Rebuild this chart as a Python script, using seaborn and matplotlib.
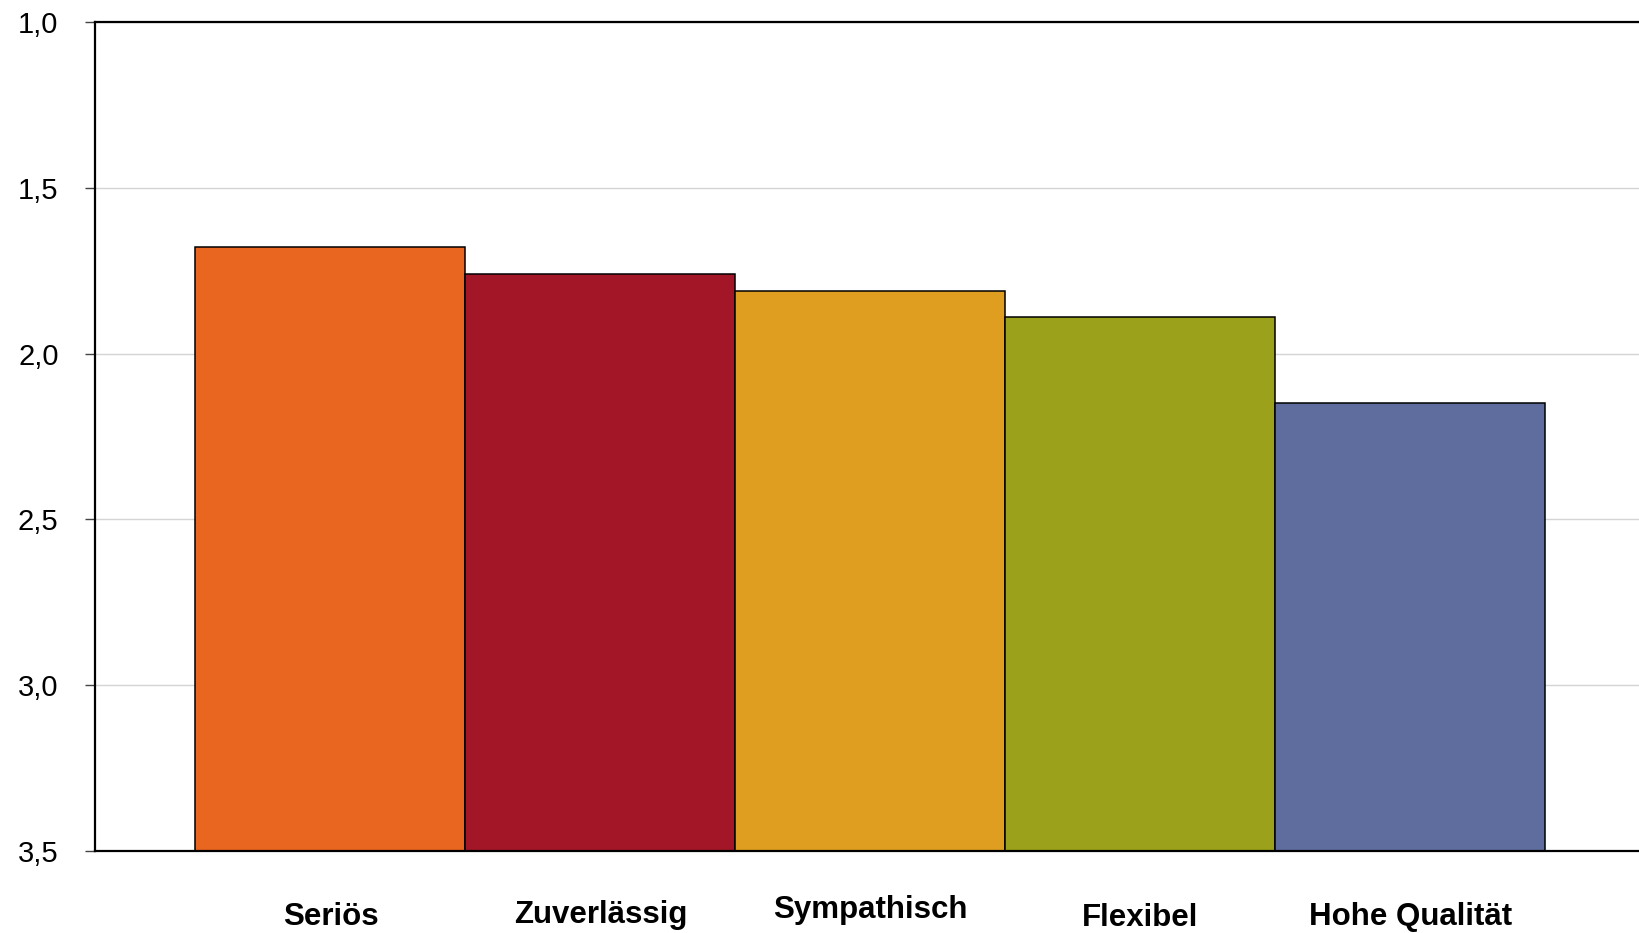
import numpy as np
import pandas as pd
import matplotlib.pyplot as plt
import matplotlib.transforms as mtransforms
from matplotlib import font_manager as fm
from matplotlib.ticker import FuncFormatter
import seaborn as sns

# Daten: Mittelwerte (Schulnoten-Skala, kleiner = besser)
kategorien = ["Seriös", "Zuverlässig", "Sympathisch", "Flexibel", "Hohe Qualität"]
mittelwerte = [1.68, 1.76, 1.81, 1.89, 2.15]
farben = ["#E8661F", "#A21627", "#DF9E20", "#9BA11A", "#5E6D9D"]
y_ticks = [1.0, 1.5, 2.0, 2.5, 3.0, 3.5]
# Versatz der Beschriftungen nach oben (pt), wie im Original leicht versetzt
versatz = [0, 1, 4.5, -1, 0]

basis = 3.5
df = pd.DataFrame({"Eigenschaft": kategorien, "Wert": mittelwerte})
df["Hoehe"] = df["Wert"] - basis

sns.set_style("white")
plt.rcParams["font.family"] = ["Liberation Sans", "DejaVu Sans"]

# schmale Schrift, falls vorhanden, sonst Liberation Sans etwas kleiner
namen = {f.name for f in fm.fontManager.ttflist}
if "Liberation Sans Narrow" in namen:
    label_font = dict(family=["Liberation Sans Narrow", "DejaVu Sans"], fontsize=25.5)
else:
    label_font = dict(family=["Liberation Sans", "DejaVu Sans"], fontsize=22.5)

fig = plt.figure(figsize=(16.4, 9.33), dpi=100)
# Achse ragt rechts über den Bildrand hinaus (wie im Original)
ax = fig.add_axes([95 / 1640, 1 - 851 / 933, (1665 - 95) / 1640, (851 - 22) / 933])

sns.barplot(
    data=df,
    x="Eigenschaft",
    y="Hoehe",
    hue="Eigenschaft",
    palette=farben,
    bottom=basis,
    width=1,
    saturation=1,
    edgecolor="black",
    linewidth=1.1,
    errorbar=None,
    legend=False,
    ax=ax,
)

# x-Bereich: Balkenbreite 1 = 270 px, erster Balken beginnt bei 195 px
ax.set_xlim(-0.5 - (195.5 - 95) / 270, -0.5 + (1665 - 195.5) / 270)
ax.set_ylim(basis, 1.0)

ax.set_yticks(y_ticks)
ax.yaxis.set_major_formatter(FuncFormatter(lambda v, p: f"{v:.1f}".replace(".", ",")))
ax.tick_params(axis="y", length=7.2, width=1, color="#444444", pad=19,
               labelsize=21, labelcolor="black", left=True)
ax.yaxis.grid(True, color="#d4d4d4", linewidth=1)
ax.xaxis.grid(False)
ax.set_axisbelow(True)

ax.set_xticks(range(len(kategorien)))
ax.set_xticklabels(kategorien, fontweight="bold", color="black", **label_font)
ax.tick_params(axis="x", length=0, pad=36.5)
for lab, dy in zip(ax.get_xticklabels(), versatz):
    lab.set_transform(lab.get_transform() +
                      mtransforms.ScaledTranslation(0, dy / 72, fig.dpi_scale_trans))

ax.set_xlabel("")
ax.set_ylabel("")

for s in ["top", "left", "bottom"]:
    ax.spines[s].set_visible(True)
    ax.spines[s].set_color("black")
    ax.spines[s].set_linewidth(1.6)
ax.spines["right"].set_visible(False)

fig.savefig("out.png", dpi=100, facecolor="white")
